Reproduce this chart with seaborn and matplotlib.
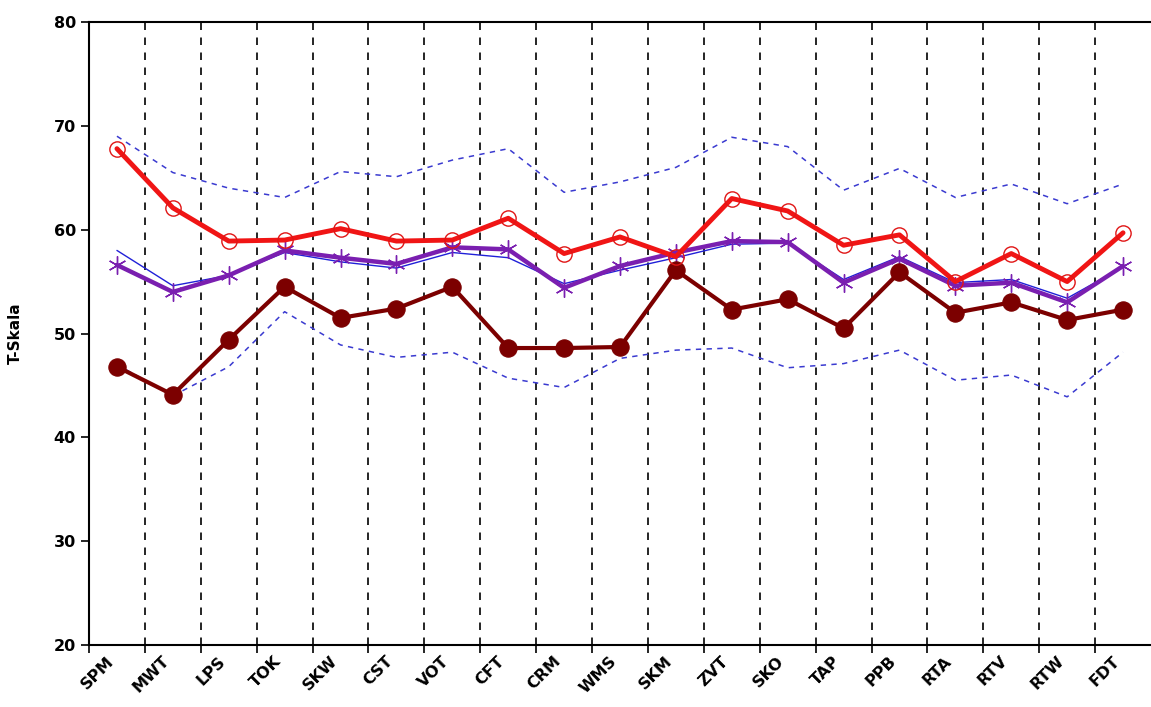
import numpy as np
import pandas as pd
import seaborn as sns
import matplotlib.pyplot as plt

# scale names
scales = ['SPM', 'MWT', 'LPS', 'TOK', 'SKW', 'CST', 'VOT', 'CFT', 'CRM', 'WMS',
          'SKM', 'ZVT', 'SKO', 'TAP', 'PPB', 'RTA', 'RTV', 'RTW', 'FDT']

# series values (T-scores)
red_vals = [67.8, 62.1, 58.9, 59.0, 60.1, 58.9, 59.0, 61.1, 57.7, 59.3,
            57.4, 63.0, 61.8, 58.5, 59.5, 55.0, 57.7, 55.0, 59.7]
purple_vals = [56.6, 54.0, 55.6, 58.0, 57.3, 56.7, 58.3, 58.1, 54.4, 56.5,
               57.8, 58.9, 58.8, 54.9, 57.2, 54.6, 54.9, 53.0, 56.5]
mean_vals = [58.0, 54.6, 55.6, 57.8, 56.9, 56.3, 57.8, 57.3, 54.8, 56.1,
             57.3, 58.6, 58.7, 55.2, 57.4, 54.9, 55.2, 53.4, 56.4]
darkred_vals = [46.8, 44.1, 49.4, 54.5, 51.5, 52.4, 54.5, 48.6, 48.6, 48.7,
                56.1, 52.3, 53.3, 50.5, 55.9, 52.0, 53.0, 51.3, 52.3]
upper_vals = [69.0, 65.5, 64.0, 63.1, 65.6, 65.1, 66.7, 67.8, 63.6, 64.6,
              66.0, 68.9, 68.0, 63.8, 65.9, 63.1, 64.4, 62.5, 64.4]
lower_vals = [47.0, 44.0, 46.8, 52.1, 48.9, 47.7, 48.2, 45.7, 44.8, 47.6,
              48.4, 48.6, 46.7, 47.1, 48.4, 45.5, 46.0, 43.9, 48.2]

df = pd.DataFrame({'scale': scales, 'red': red_vals, 'purple': purple_vals,
                   'mean': mean_vals, 'darkred': darkred_vals,
                   'upper': upper_vals, 'lower': lower_vals})

sns.set_style('white')
plt.rcParams['font.family'] = ['DejaVu Sans']
plt.rcParams['text.color'] = 'black'
plt.rcParams['axes.labelcolor'] = 'black'
plt.rcParams['xtick.color'] = 'black'
plt.rcParams['ytick.color'] = 'black'

fig = plt.figure(figsize=(11.51, 7.07), dpi=100)
ax = fig.add_axes([89 / 1151, 1 - 645 / 707, 1 - 89 / 1151, (645 - 22) / 707])

# confidence band (dashed blue)
for col in ['upper', 'lower']:
    sns.lineplot(data=df, x='scale', y=col, ax=ax, sort=False, color='#3a3ad0',
                 lw=1.1, linestyle=(0, (3.5, 3.5)), zorder=2)

sns.lineplot(data=df, x='scale', y='mean', ax=ax, sort=False, color='#2020d8',
             lw=1.0, zorder=3)
sns.lineplot(data=df, x='scale', y='purple', ax=ax, sort=False, color='#7a1fb0',
             lw=3.2, marker=(6, 2, 0), markersize=13, markeredgewidth=1.0,
             markeredgecolor='#7a1fb0', zorder=4)
sns.lineplot(data=df, x='scale', y='darkred', ax=ax, sort=False, color='#7c0000',
             lw=3.0, marker='o', markersize=12.5, markeredgecolor='#7c0000', zorder=5)
sns.lineplot(data=df, x='scale', y='red', ax=ax, sort=False, color='#f01515',
             lw=3.5, marker='o', markersize=11, markerfacecolor='none',
             markeredgecolor='#e01515', markeredgewidth=1.0, zorder=6)

n = len(scales)
ax.set_xlim(-0.5, n - 0.5)
ax.set_ylim(20, 80)
ax.set_yticks([20, 30, 40, 50, 60, 70, 80])

# category boundaries: dashed verticals and ticks
bounds = np.arange(n) - 0.5
for b in bounds[1:]:
    ax.axvline(b, color='black', lw=1.2, linestyle=(0, (4.5, 4.5)), zorder=1)
ax.set_xticks(bounds)
ax.set_xticklabels([])
# labels sit a little left of each category centre
ax.set_xticks(np.arange(n) - 0.2, minor=True)
ax.set_xticklabels(scales, minor=True, rotation=45, ha='right',
                   rotation_mode='anchor', fontsize=11.5, fontweight='bold')

ax.tick_params(axis='x', which='major', direction='out', length=6, width=1.2,
               color='black', bottom=True)
ax.tick_params(axis='x', which='minor', length=0, pad=6)
ax.tick_params(axis='y', direction='out', length=6, width=1.2, color='black',
               left=True, labelsize=11.5)
for lbl in ax.get_yticklabels():
    lbl.set_fontweight('bold')

for side in ['left', 'bottom', 'top']:
    ax.spines[side].set_color('black')
    ax.spines[side].set_linewidth(1.5)
ax.spines['right'].set_visible(False)

ax.set_xlabel('')
ax.set_ylabel('T-Skala', fontsize=11, fontweight='bold', labelpad=22)

fig.savefig('out.png', dpi=100)
